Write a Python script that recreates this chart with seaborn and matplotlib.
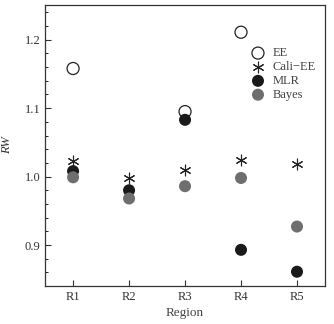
import numpy as np
import pandas as pd
import matplotlib
matplotlib.use('Agg')
import matplotlib.pyplot as plt
import seaborn as sns
from matplotlib.ticker import MultipleLocator

# data
regions = ['R1', 'R2', 'R3', 'R4', 'R5']
ee = [1.158, np.nan, 1.095, 1.211, np.nan]
cali_ee = [1.023, 0.998, 1.009, 1.024, 1.019]
mlr = [1.008, 0.980, 1.083, 0.893, 0.861]
bayes = [0.999, 0.968, 0.986, 0.998, 0.927]

df = pd.DataFrame({'Region': np.arange(len(regions)), 'EE': ee, 'Cali-EE': cali_ee,
                   'MLR': mlr, 'Bayes': bayes})

sns.set_style('ticks')
plt.rcParams['font.family'] = ['Liberation Serif', 'DejaVu Serif']

fig, ax = plt.subplots(figsize=(3.34, 3.24), dpi=100)

sns.scatterplot(data=df, x='Region', y='EE', ax=ax, marker='o', s=75,
                facecolor='none', edgecolor='#222222', linewidth=0.9, label='EE')
sns.scatterplot(data=df, x='Region', y='Cali-EE', ax=ax, marker=(6, 2, 0), s=60,
                color='#222222', linewidth=0.8, label='Cali\u2212EE')
sns.scatterplot(data=df, x='Region', y='MLR', ax=ax, marker='o', s=75,
                color='#1a1a1a', edgecolor='none', label='MLR')
sns.scatterplot(data=df, x='Region', y='Bayes', ax=ax, marker='o', s=75,
                color='#6e6e6e', edgecolor='none', label='Bayes')

ax.set_xlim(-0.5, 4.5)
ax.set_ylim(0.84, 1.251)
ax.set_xticks(range(len(regions)))
ax.set_xticklabels(regions)
ax.yaxis.set_major_locator(MultipleLocator(0.1))
ax.yaxis.set_minor_locator(MultipleLocator(0.02))
ax.yaxis.set_major_formatter(matplotlib.ticker.FormatStrFormatter('%.1f'))
ax.tick_params(axis='both', which='major', direction='in', length=4, width=0.8,
               labelsize=9, colors='#333333', top=False, right=False)
ax.tick_params(axis='y', which='minor', direction='in', length=2.5, width=0.7,
               right=False)
for sp in ax.spines.values():
    sp.set_linewidth(0.9)
    sp.set_color('#333333')

ax.set_xlabel('Region', fontsize=9.5, color='#444444', labelpad=3)
ax.set_ylabel('RW', fontsize=9, style='italic', color='#333333', labelpad=8)

leg = ax.legend(loc='upper right', bbox_to_anchor=(1.0, 0.88), frameon=False,
                fontsize=9, handletextpad=0.6, labelspacing=0.15, borderaxespad=0.3,
                handlelength=1.2)
for t in leg.get_texts():
    t.set_color('#444444')

fig.subplots_adjust(left=0.135, right=0.973, top=0.985, bottom=0.117)
fig.savefig('out.png', dpi=100)
